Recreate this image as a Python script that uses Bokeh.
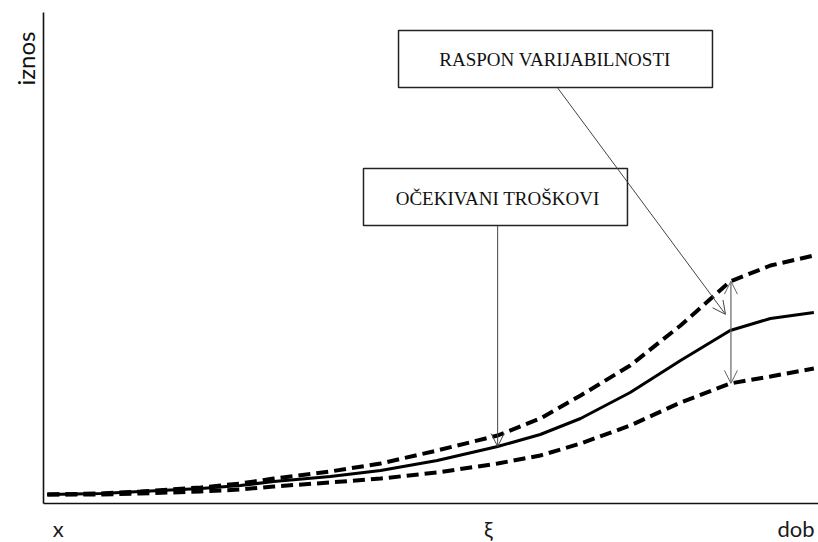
import numpy as np
from bokeh.plotting import figure
from bokeh.models import Label, Arrow, OpenHead, FixedTicker, Range1d, BoxAnnotation
from bokeh.embed import file_html
from bokeh.resources import INLINE

# age axis (relative units) and cost curves
age = [0.5, 7.4, 12.5, 20.3, 25.4, 29.7, 37.0, 43.5, 50.8, 58.6, 64.1, 69.3, 75.7, 82.2, 88.6, 93.8, 99.4]
expected = [1.84, 2.04, 2.45, 3.06, 3.67, 4.49, 5.51, 6.73, 8.78, 11.63, 14.08, 17.35, 22.65, 29.18, 35.31, 37.76, 38.98]
upper = [1.84, 2.04, 2.45, 3.27, 4.08, 5.10, 6.53, 8.16, 10.82, 13.88, 17.35, 22.04, 28.16, 36.33, 45.31, 48.57, 50.61]
lower = [1.84, 1.84, 2.04, 2.45, 2.86, 3.47, 4.29, 5.10, 6.33, 8.16, 9.80, 12.24, 15.92, 20.61, 24.49, 25.92, 27.55]

x_tick_pos = [1.9, 57.4, 97.1]
x_tick_lab = ["x", "\u03be", "dob"]
y_label = "iznos"
xi = 58.6          # age where expected-cost arrow points
x_range_pt = 88.7  # age of variability-range arrow

p = figure(width=818, height=542, output_backend="svg", toolbar_location=None,
           x_range=Range1d(-5.548, 100.0), y_range=Range1d(-7.959, 102.65),
           min_border_left=0, min_border_right=0, min_border_top=0, min_border_bottom=0)
p.outline_line_color = None
p.grid.visible = False
p.xaxis.bounds = (0, 100.0)
p.yaxis.bounds = (0, 100.2)
for ax in (p.xaxis[0], p.yaxis[0]):
    ax.fixed_location = 0
    ax.ticker = FixedTicker(ticks=[])
    ax.major_tick_line_color = None
    ax.minor_tick_line_color = None
    ax.major_label_text_font_size = "0px"
    ax.axis_line_color = "#111111"
    ax.axis_line_width = 1.6

p.line(age, upper, line_color="black", line_width=4, line_dash="12 6")
p.line(age, lower, line_color="black", line_width=4, line_dash="12 6")
p.line(age, expected, line_color="black", line_width=3)

# axis labels
for xp, t in zip(x_tick_pos, x_tick_lab):
    p.add_layout(Label(x=xp, y=-5.0, text=t, text_align="center", text_baseline="middle",
                       text_font="Lato", text_font_size="22px", text_color="#1a1a1a"))
p.add_layout(Label(x=-2.32, y=85.3, text=y_label, angle=np.pi / 2, text_align="left",
                   text_baseline="alphabetic", text_font="Lato", text_font_size="24px",
                   text_color="#111111"))

# boxes
p.add_layout(BoxAnnotation(left=45.81, right=86.32, bottom=84.90, top=96.53,
                           fill_color="white", fill_alpha=1, line_color="#222222",
                           line_alpha=1, line_width=1.5))
p.add_layout(BoxAnnotation(left=41.29, right=75.35, bottom=56.73, top=68.37,
                           fill_color="white", fill_alpha=1, line_color="#222222",
                           line_alpha=1, line_width=1.5))
p.add_layout(Label(x=66.0, y=90.7, text="RASPON VARIJABILNOSTI", text_align="center",
                   text_baseline="middle", text_font="Liberation Serif", text_font_size="19px",
                   text_color="#111111"))
p.add_layout(Label(x=58.6, y=62.3, text="OČEKIVANI TROŠKOVI", text_align="center",
                   text_baseline="middle", text_font="Liberation Serif", text_font_size="19px",
                   text_color="#111111"))

# arrows
tip_exp = float(np.interp(xi, age, expected))
p.add_layout(Arrow(end=OpenHead(size=13, line_color="#444444", line_width=1),
                   x_start=xi, y_start=56.73, x_end=xi, y_end=tip_exp,
                   line_color="#444444", line_width=1))
p.add_layout(Arrow(end=OpenHead(size=13, line_color="#444444", line_width=1),
                   x_start=66.3, y_start=84.90, x_end=88.0, y_end=38.6,
                   line_color="#444444", line_width=1))
y_up = float(np.interp(x_range_pt, age, upper))
y_lo = float(np.interp(x_range_pt, age, lower))
p.add_layout(Arrow(start=OpenHead(size=13, line_color="#666666", line_width=1),
                   end=OpenHead(size=13, line_color="#666666", line_width=1),
                   x_start=x_range_pt, y_start=y_up, x_end=x_range_pt, y_end=y_lo,
                   line_color="#666666", line_width=1.2))

open("out.html", "w").write(file_html(p, INLINE))
